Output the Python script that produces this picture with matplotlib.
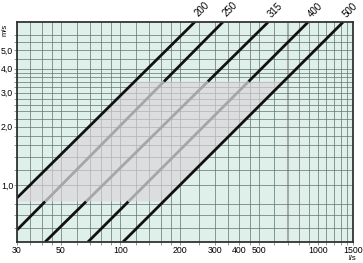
import matplotlib
matplotlib.use('Agg')
import matplotlib.pyplot as plt
import numpy as np

plt.rcParams['font.family'] = ['Liberation Sans', 'DejaVu Sans']

# duct diameters (mm); each line given by two points (l/s, m/s)
diam = ['200', '250', '315', '400', '500']
q_lo = [30, 30, 41.6, 68.5, 103]
v_lo = [0.856, 0.584, 0.506, 0.506, 0.506]
q_hi = [238.5, 331, 558, 888, 1335]
v_hi = [7.0, 7.0, 6.96, 6.96, 6.96]

# shaded band (velocity limits, m/s)
band_v = [0.82, 3.43]

x_grid = [30, 35, 40, 45, 50, 60, 70, 80, 90, 100, 120, 140, 160, 180, 200,
          250, 300, 350, 400, 450, 500, 600, 700, 800, 900, 1000, 1100, 1200,
          1300, 1400, 1500]
x_lab = [30, 50, 100, 200, 300, 400, 500, 1000, 1500]
y_grid = [0.6, 0.7, 0.8, 1.0, 1.2, 1.4, 1.6, 1.8, 2.0, 2.2, 2.4, 2.6, 2.8, 3.0,
          3.2, 3.4, 3.6, 3.8, 4.0, 4.5, 5.0, 5.5, 6.0]
y_lab = [1.0, 2.0, 3.0, 4.0, 5.0]

mint = '#dff0eb'
gridc = '#62716c'
dark = '#111111'
greyline = '#a6a6a6'


def q_at(i, v):
    # position along line i in log-log space
    return np.exp(np.interp(np.log(v), [np.log(v_lo[i]), np.log(v_hi[i])],
                            [np.log(q_lo[i]), np.log(q_hi[i])]))


fig = plt.figure(figsize=(3.63, 2.63), dpi=100)
ax = fig.add_axes([17/363, 1-242/263, 336/363, 220.3/263])
ax.set_facecolor(mint)
ax.set_xscale('log')
ax.set_yscale('log')
ax.set_xlim(30, 1500)
ax.set_ylim(0.506, 7.0)

for x in x_grid:
    if x == 700:
        ax.axvline(x, color='#a3aaa8', lw=1.5, zorder=1)
    else:
        ax.axvline(x, color=gridc, lw=0.5, zorder=1)
for y in y_grid:
    ax.axhline(y, color=gridc, lw=0.5, zorder=1)

# shaded band between the 200 and 500 lines
vb = np.array(band_v)
px = [q_at(0, vb[0]), q_at(0, vb[1]), q_at(4, vb[1]), q_at(4, vb[0])]
py = [vb[0], vb[1], vb[1], vb[0]]
ax.fill(px, py, color='#dbd4da', alpha=0.65, lw=0, zorder=2)

for i, d in enumerate(diam):
    if i in (0, 4):
        ax.plot([q_lo[i], q_hi[i]], [v_lo[i], v_hi[i]], color=dark, lw=2.0,
                solid_capstyle='butt', zorder=4)
    else:
        a, b = band_v
        ax.plot([q_lo[i], q_at(i, a)], [v_lo[i], a], color=dark, lw=2.0,
                solid_capstyle='butt', zorder=4)
        ax.plot([q_at(i, a), q_at(i, b)], [a, b], color=greyline, lw=2.0,
                solid_capstyle='butt', zorder=4)
        ax.plot([q_at(i, b), q_hi[i]], [b, v_hi[i]], color=dark, lw=2.0,
                solid_capstyle='butt', zorder=4)
    ax.annotate(d, (q_hi[i], v_hi[i]), xytext=(5, 9), textcoords='offset points',
                rotation=45, ha='center', va='center', fontsize=7,
                annotation_clip=False)

ax.xaxis.set_major_locator(matplotlib.ticker.FixedLocator(x_grid))
ax.xaxis.set_minor_locator(matplotlib.ticker.NullLocator())
ax.set_xticklabels([str(x) if x in x_lab else '' for x in x_grid])
ax.yaxis.set_major_locator(matplotlib.ticker.FixedLocator(y_grid))
ax.yaxis.set_minor_locator(matplotlib.ticker.NullLocator())
ax.set_yticklabels([('%.1f' % y).replace('.', ',') if y in y_lab else '' for y in y_grid])
ax.tick_params(length=2, width=0.5, color=gridc, pad=0.8, labelsize=6.3)

for s in ax.spines.values():
    s.set_linewidth(1.3)
    s.set_color('#333333')
    s.set_zorder(5)

fig.text(5/363, 1-30/263, 'm/s', rotation=90, fontsize=5.5, ha='center', va='center')
fig.text(352/363, 1-259/263, 'l/s', fontsize=5.5, ha='center', va='center')

fig.savefig('out.png', dpi=100)
